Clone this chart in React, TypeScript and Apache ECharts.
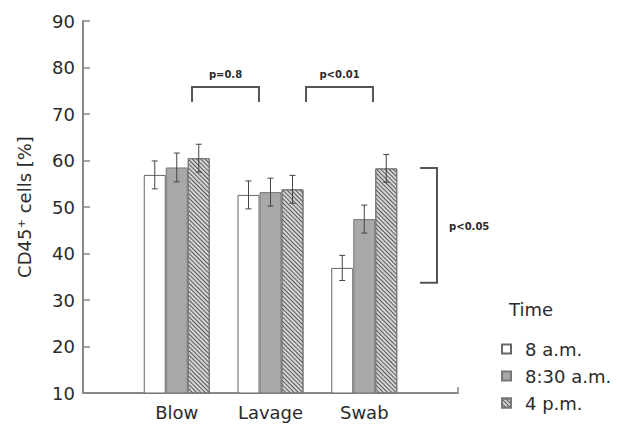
import React, { useEffect, useRef } from "react";
import * as echarts from "echarts";

const categories = ["", "Blow", "Lavage", "Swab", ""];
const timeNames = ["8 a.m.", "8:30 a.m.", "4 p.m."];
const means8am = [56.9, 52.6, 36.9];
const means830am = [58.5, 53.2, 47.4];
const means4pm = [60.5, 53.8, 58.3];
const err8am = [3.0, 3.0, 2.7];
const err830am = [3.1, 3.0, 3.0];
const err4pm = [3.0, 3.0, 3.0];
const yMin = 10;
const yMax = 90;
const yStep = 10;

// significance annotations (x in category units, y in data units)
const brackets = [
  { x1: 1.163, x2: 1.877, yTop: 75.8, yEnd: 72.6, label: "p=0.8", labelY: 78.6 },
  { x1: 2.379, x2: 3.093, yTop: 75.8, yEnd: 72.6, label: "p<0.01", labelY: 78.6 },
];
const sideBracket = { xL: 3.595, xR: 3.776, yTop: 58.4, yBot: 33.7, label: "p<0.05", labelX: 3.905, labelY: 45.7 };

const FONT = "DejaVu Sans";
const BAR_W = 22;
const TXT = "#2b2b2b";

const pad = (arr: number[]) => ["-", ...arr, "-"];

export default function App() {
  const ref = useRef<HTMLDivElement>(null);
  useEffect(() => {
    if (!ref.current) return;
    const chart = echarts.init(ref.current, null, { renderer: "svg" });
    const allMeans = [means8am, means830am, means4pm];
    const allErr = [err8am, err830am, err4pm];
    const errData: number[][] = [];
    allMeans.forEach((m, s) => {
      m.forEach((v, c) => {
        errData.push([c + 1, s, v - allErr[s][c], v + allErr[s][c]]);
      });
    });

    const barStyles = [
      { color: "#ffffff", borderColor: "#666", borderWidth: 1 },
      { color: "#a8a8a8", borderColor: "#777", borderWidth: 1 },
      {
        color: "#d4d4d4",
        borderColor: "#777",
        borderWidth: 1,
        decal: {
          symbol: "rect",
          symbolSize: 1,
          color: "#5a5a5a",
          dashArrayX: [1, 0],
          dashArrayY: [1, 2],
          rotation: Math.PI / 4,
        },
      },
    ];

    const option: any = {
      animation: false,
      backgroundColor: "#fff",
      textStyle: { fontFamily: FONT },
      title: {
        text: "Time",
        left: 504,
        top: 295,
        textStyle: { fontFamily: FONT, fontSize: 18, fontWeight: "normal", color: TXT },
      },
      legend: {
        orient: "vertical",
        left: 496,
        top: 335,
        itemWidth: 9,
        itemHeight: 9,
        itemGap: 9,
        icon: "rect",
        data: timeNames,
        textStyle: { fontFamily: FONT, fontSize: 18, color: TXT, padding: [0, 0, 0, 9] },
      },
      grid: { left: 83, right: 159, top: 21, bottom: 35, containLabel: false },
      xAxis: {
        type: "category",
        data: categories,
        boundaryGap: false,
        axisLine: { lineStyle: { color: "#888", width: 2 } },
        axisTick: { show: false },
        axisLabel: { interval: 0, fontFamily: FONT, fontSize: 18, color: TXT, margin: 10 },
      },
      yAxis: {
        type: "value",
        min: yMin,
        max: yMax,
        interval: yStep,
        name: "CD45⁺ cells [%]",
        nameLocation: "middle",
        nameGap: 50,
        nameTextStyle: { fontFamily: FONT, fontSize: 18, color: TXT },
        axisLine: { show: true, lineStyle: { color: "#888", width: 2 } },
        axisTick: { show: true, inside: true, length: 7, lineStyle: { color: "#888", width: 1.5 } },
        axisLabel: { fontFamily: FONT, fontSize: 18, color: TXT, margin: 8 },
        splitLine: { show: false },
      },
      series: [
        ...allMeans.map((m, s) => ({
          name: timeNames[s],
          type: "bar",
          data: pad(m),
          barWidth: BAR_W,
          barGap: "0%",
          itemStyle: barStyles[s],
        })),
        {
          type: "custom",
          name: "err",
          data: errData,
          encode: { x: 0, y: [2, 3] },
          z: 5,
          renderItem: (params: any, api: any) => {
            const c = api.value(0);
            const s = api.value(1);
            const lo = api.coord([c, api.value(2)]);
            const hi = api.coord([c, api.value(3)]);
            const x = lo[0] + (s - 1) * BAR_W;
            const cap = 3;
            const st = { stroke: "#444", lineWidth: 1 };
            return {
              type: "group",
              children: [
                { type: "line", shape: { x1: x, y1: lo[1], x2: x, y2: hi[1] }, style: st },
                { type: "line", shape: { x1: x - cap, y1: lo[1], x2: x + cap, y2: lo[1] }, style: st },
                { type: "line", shape: { x1: x - cap, y1: hi[1], x2: x + cap, y2: hi[1] }, style: st },
              ],
            };
          },
        },
        {
          type: "custom",
          name: "annot",
          data: [[0, yMin]],
          encode: { x: 0, y: 1 },
          z: 6,
          renderItem: (params: any, api: any) => {
            const pt = (xv: number, yv: number) => {
              const a = api.coord([0, yv]);
              const b = api.coord([1, yv]);
              return [a[0] + xv * (b[0] - a[0]), a[1]];
            };
            const st = { stroke: "#555", lineWidth: 2, fill: null };
            const children: any[] = [];
            brackets.forEach((br) => {
              children.push({
                type: "polyline",
                shape: { points: [pt(br.x1, br.yEnd), pt(br.x1, br.yTop), pt(br.x2, br.yTop), pt(br.x2, br.yEnd)] },
                style: st,
              });
              const tp = pt((br.x1 + br.x2) / 2, br.labelY);
              children.push({
                type: "text",
                x: tp[0],
                y: tp[1],
                style: { text: br.label, fontFamily: FONT, fontSize: 10, fontWeight: "bold", fill: TXT, align: "center", verticalAlign: "middle" },
              });
            });
            const sb = sideBracket;
            children.push({
              type: "polyline",
              shape: { points: [pt(sb.xL, sb.yTop), pt(sb.xR, sb.yTop), pt(sb.xR, sb.yBot), pt(sb.xL, sb.yBot)] },
              style: st,
            });
            const lp = pt(sb.labelX, sb.labelY);
            children.push({
              type: "text",
              x: lp[0],
              y: lp[1],
              style: { text: sb.label, fontFamily: FONT, fontSize: 10, fontWeight: "bold", fill: TXT, align: "left", verticalAlign: "middle" },
            });
            // end tick of x axis
            const e0 = pt(4, yMin);
            children.push({
              type: "line",
              shape: { x1: e0[0], y1: e0[1], x2: e0[0], y2: e0[1] - 6 },
              style: { stroke: "#888", lineWidth: 1.5 },
            });
            return { type: "group", children };
          },
        },
      ],
    };
    chart.setOption(option);
    return () => chart.dispose();
  }, []);
  return (
    <div
      ref={ref}
      style={{ position: "fixed", left: 0, top: 0, width: 617, height: 428, background: "#fff" }}
    />
  );
}
